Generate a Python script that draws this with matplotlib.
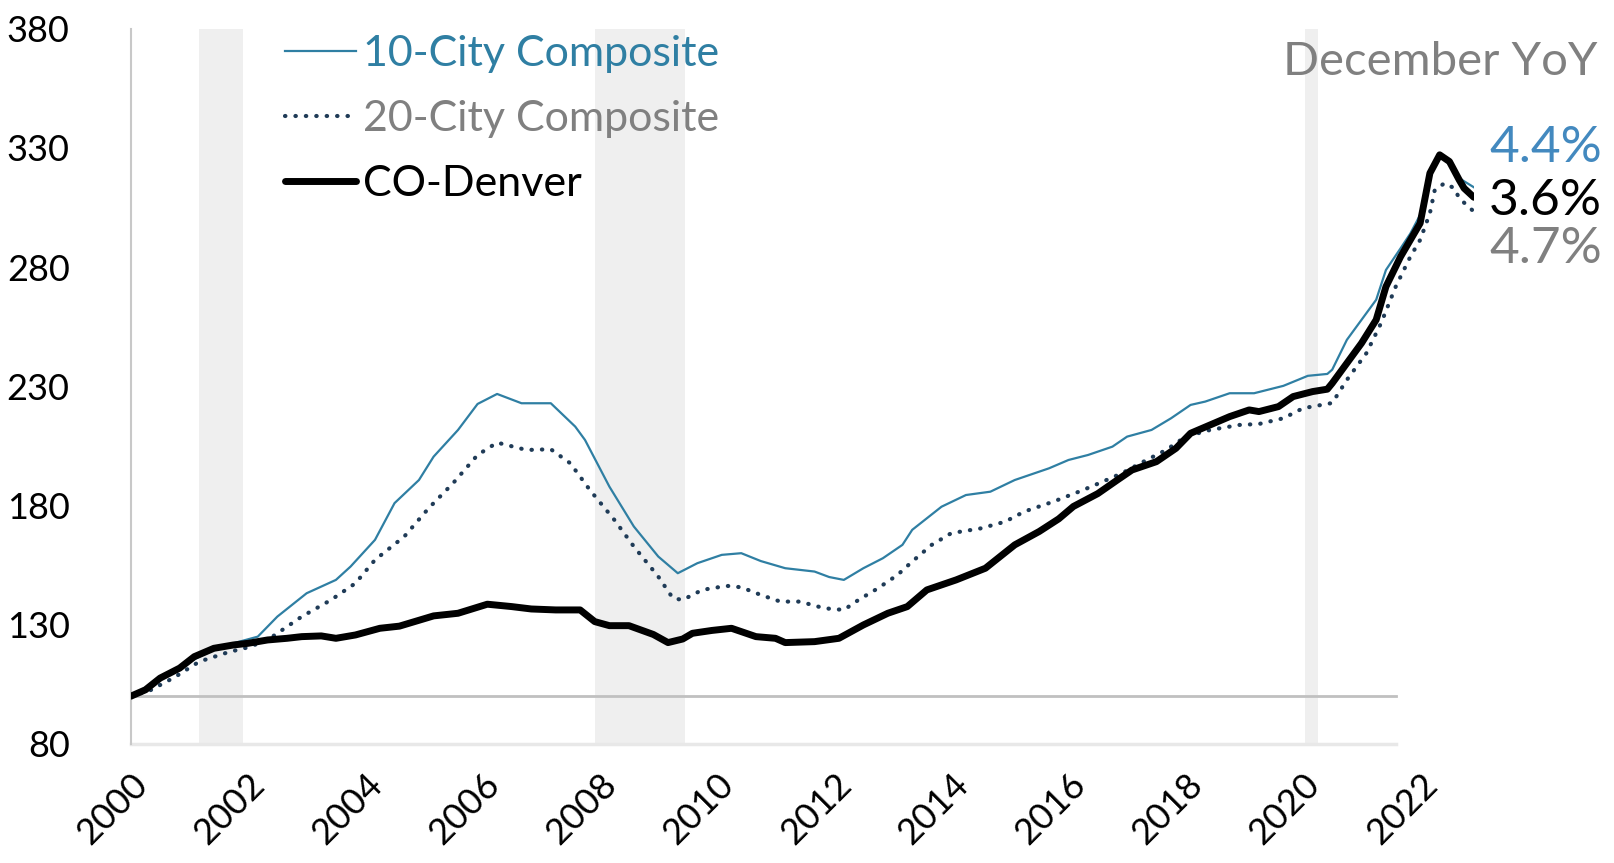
import matplotlib
matplotlib.use('Agg')
import matplotlib.pyplot as plt

plt.rcParams['font.family'] = ['Lato', 'DejaVu Sans']

# months since Jan 2000 (index, Jan 2000 = 100)
ten_m = [0, 6, 12, 17, 21, 26, 30, 36, 42, 45, 50, 54, 59, 62, 67, 71, 75, 80, 86, 91,
         93, 98, 103, 108, 112, 116, 121, 125, 129, 134, 140, 143, 146, 150, 154, 158, 160, 166, 171, 176,
         181, 188, 192, 196, 201, 204, 209, 213, 217, 220, 225, 230, 236, 241, 245, 246, 249, 252, 255, 257,
         260, 262, 264, 266, 268, 270, 272, 275]
ten_v = [100, 107.3, 114.5, 119.5, 122.2, 125.0, 133.4, 143.2, 148.8, 154.4,
         165.6, 181.0, 190.7, 200.5, 211.7, 222.6, 226.8, 222.9, 222.9, 213.1,
         207.5, 187.9, 171.2, 158.6, 151.6, 155.8, 159.3, 160.0, 156.7, 153.7,
         152.3, 150.0, 148.8, 153.7, 157.9, 163.5, 169.8, 179.5, 184.4, 185.8,
         190.7, 195.6, 199.1, 201.2, 204.7, 208.9, 211.7, 216.6, 222.2, 223.6,
         227.1, 227.1, 230.2, 234.4, 235.2, 237.0, 249.5, 257.9, 266.3, 278.8,
         287.9, 294.1, 301.9, 320.8, 327.8, 322.9, 317.3, 313.5]

twenty_m = [0, 4, 9, 14, 20, 24, 28, 35, 41, 46, 50, 56, 61, 66, 71, 75, 81, 86, 90, 94,
            99, 103, 108, 111, 113, 117, 122, 125, 129, 133, 137, 142, 146, 149, 153, 157, 160, 164, 168, 174,
            179, 183, 189, 195, 199, 203, 208, 212, 216, 221, 227, 231, 236, 240, 246, 249, 253, 256, 259, 262,
            264, 266, 267, 269, 271, 272, 275]
twenty_v = [100, 102.5, 108, 114.5, 118.5, 120.5, 123.6, 133.4, 140.4, 147.4,
            157.2, 167.0, 178.9, 189.4, 201.2, 206.4, 203.3, 203.6, 197.7, 186.5,
            174.0, 162.8, 150.2, 141.1, 140.4, 144.6, 146.3, 145.7, 142.5, 139.7,
            139.7, 136.9, 136.2, 140.4, 145.3, 150.9, 156.5, 163.5, 168.4, 170.4,
            173.2, 177.5, 181.7, 186.5, 190.0, 193.6, 199.1, 203.3, 208.9, 211.7,
            213.8, 214.2, 216.6, 220.8, 223.0, 232.7, 243.9, 256.5, 271.8, 284.4,
            291.4, 302.6, 312.4, 315.2, 313.1, 308.9, 303.3]

denver_m = [0, 3, 6, 10, 13, 17, 21, 24, 28, 32, 35, 39, 42, 46, 51, 55, 62, 67, 73, 78,
            82, 87, 92, 95, 98, 102, 107, 110, 113, 115, 119, 123, 128, 132, 134, 140, 145, 150, 155, 159,
            163, 169, 175, 181, 186, 190, 193, 198, 202, 205, 210, 214, 217, 221, 225, 229, 231, 235, 238, 242,
            245, 246, 249, 252, 255, 257, 260, 264, 266, 268, 270, 272, 273, 275]
denver_v = [100, 102.7, 107.6, 111.8, 116.6, 120.1, 121.5, 122.2, 123.6, 124.3,
            125.0, 125.3, 124.3, 125.7, 128.5, 129.4, 133.7, 134.8, 138.6, 137.6,
            136.6, 136.2, 136.2, 131.3, 129.6, 129.6, 125.9, 122.5, 124.0, 126.4,
            127.6, 128.5, 125.0, 124.3, 122.5, 122.9, 124.3, 129.9, 134.8, 137.6,
            144.6, 148.8, 153.7, 163.5, 169.1, 174.4, 179.6, 185.0, 190.7, 194.9,
            198.4, 204.0, 210.3, 213.8, 217.3, 220.1, 219.4, 221.5, 225.7, 227.8,
            228.8, 231.3, 239.7, 248.1, 257.9, 271.8, 284.4, 298.4, 319.4, 327.1,
            324.3, 316.6, 313.1, 309.3]

# recessions (months since Jan 2000)
rec_start = [14, 95, 240.5]
rec_end = [23, 113.5, 243]

years = list(range(2000, 2023, 2))
yticks = [80, 130, 180, 230, 280, 330, 380]
yoy_labels = ['4.4%', '3.6%', '4.7%']

blue = '#2F7FA3'
navy = '#1F3B57'
gray = '#808080'

fig = plt.figure(figsize=(16.15, 8.63), dpi=100)
ax = fig.add_axes([0.081, 0.138, 0.8316, 0.8287])

for s, e in zip(rec_start, rec_end):
    ax.axvspan(s, e, color='#EFEFEF', lw=0, zorder=0)

ax.axhline(100, xmin=0, xmax=259 / 275, color='#C0C0C0', lw=2, zorder=1)
ax.axhline(80, xmin=0, xmax=259 / 275, color='#E8E8E8', lw=2.5, zorder=1, clip_on=False)

ax.plot(ten_m, ten_v, color=blue, lw=1.6, label='10-City Composite', zorder=3)
ax.plot(twenty_m, twenty_v, color=navy, lw=3, linestyle=(0, (0.1, 2.4)),
        dash_capstyle='round', label='20-City Composite', zorder=3)
ax.plot(denver_m, denver_v, color='black', lw=5, label='CO-Denver', zorder=4,
        solid_capstyle='round', solid_joinstyle='round')

ax.set_xlim(0, 275)
ax.set_ylim(80, 380)
ax.set_yticks(yticks)
ax.set_xticks([(y - 2000) * 12 for y in years])
ax.set_xticklabels([str(y) for y in years], rotation=45, ha='right', va='top',
                   rotation_mode='anchor')
ax.tick_params(axis='y', length=0, pad=44, labelsize=26)
ax.tick_params(axis='x', length=0, pad=17, labelsize=26)

for side in ['top', 'right', 'bottom']:
    ax.spines[side].set_visible(False)
ax.spines['left'].set_color('#C8C8C8')
ax.spines['left'].set_linewidth(1.5)

leg = ax.legend(loc='upper left', bbox_to_anchor=(0.1147, 0.9916), frameon=False,
                fontsize=31, handlelength=1.65, handletextpad=0.16, labelspacing=0.63,
                borderpad=0, borderaxespad=0,
                labelcolor=[blue, gray, 'black'])

fig.text(0.989, 0.928, 'December YoY', color=gray, fontsize=34, ha='right', va='center')
fig.text(0.992, 0.829, yoy_labels[0], color='#4389BF', fontsize=37, ha='right', va='center')
fig.text(0.992, 0.767, yoy_labels[1], color='black', fontsize=37, ha='right', va='center')
fig.text(0.992, 0.711, yoy_labels[2], color=gray, fontsize=37, ha='right', va='center')

fig.savefig('out.png', dpi=100)
